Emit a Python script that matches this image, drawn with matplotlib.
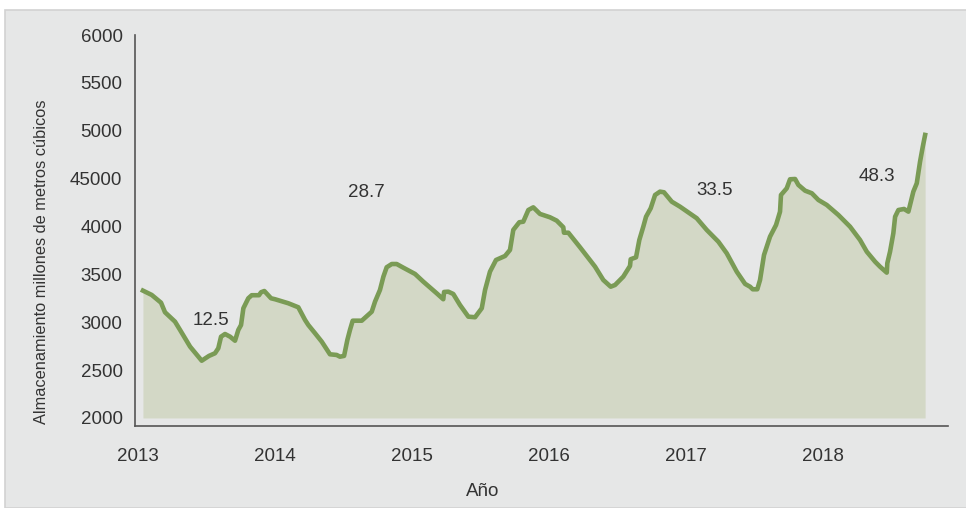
import matplotlib
matplotlib.use("Agg")
import matplotlib.pyplot as plt
from matplotlib.patches import Rectangle

plt.rcParams['font.family'] = ['Liberation Sans', 'DejaVu Sans']

# fecha (fracción de año) y almacenamiento
fechas = [
    2013.036, 2013.100, 2013.168, 2013.197, 2013.270, 2013.307, 2013.380, 2013.465,
    2013.518, 2013.562, 2013.586, 2013.606, 2013.635, 2013.672, 2013.708, 2013.732,
    2013.752, 2013.769, 2013.805, 2013.830, 2013.883, 2013.898, 2013.922, 2013.971,
    2014.000, 2014.097, 2014.170, 2014.219, 2014.243, 2014.292, 2014.341, 2014.401,
    2014.450, 2014.474, 2014.504, 2014.528, 2014.547, 2014.567, 2014.633, 2014.706,
    2014.730, 2014.766, 2014.791, 2014.815, 2014.852, 2014.888, 2014.936, 2015.022,
    2015.082, 2015.180, 2015.228, 2015.234, 2015.265, 2015.301, 2015.350, 2015.411,
    2015.460, 2015.509, 2015.533, 2015.569, 2015.613, 2015.679, 2015.715, 2015.739,
    2015.783, 2015.812, 2015.849, 2015.885, 2015.934, 2016.007, 2016.056, 2016.104,
    2016.109, 2016.141, 2016.226, 2016.336, 2016.396, 2016.450, 2016.482, 2016.542,
    2016.591, 2016.596, 2016.635, 2016.659, 2016.688, 2016.708, 2016.742, 2016.774,
    2016.810, 2016.839, 2016.896, 2016.956, 2017.078, 2017.151, 2017.236, 2017.297,
    2017.370, 2017.431, 2017.467, 2017.487, 2017.520, 2017.540, 2017.569, 2017.613,
    2017.657, 2017.686, 2017.693, 2017.735, 2017.759, 2017.796, 2017.820, 2017.869,
    2017.918, 2017.966, 2018.027, 2018.112, 2018.197, 2018.270, 2018.319, 2018.380,
    2018.416, 2018.465, 2018.469, 2018.489, 2018.513, 2018.526, 2018.550, 2018.591,
    2018.623, 2018.659, 2018.684, 2018.708, 2018.728, 2018.745,
]
almacenamiento = [
    3330, 3285, 3204, 3104, 3006, 2919, 2745, 2598,
    2648, 2676, 2728, 2849, 2877, 2849, 2807, 2919,
    2971, 3146, 3250, 3282, 3282, 3313, 3326, 3250,
    3240, 3198, 3156, 3024, 2971, 2885, 2797, 2665,
    2658, 2640, 2648, 2815, 2919, 3016, 3016, 3110,
    3215, 3337, 3476, 3574, 3608, 3608, 3570, 3504,
    3424, 3302, 3240, 3316, 3319, 3295, 3180, 3058,
    3052, 3146, 3337, 3528, 3650, 3692, 3755, 3964,
    4044, 4050, 4172, 4200, 4131, 4096, 4061, 3992,
    3935, 3935, 3783, 3580, 3441, 3371, 3389, 3476,
    3588, 3658, 3678, 3859, 3998, 4102, 4190, 4329,
    4364, 4357, 4259, 4207, 4086, 3964, 3841, 3720,
    3528, 3400, 3371, 3344, 3344, 3441, 3702, 3894,
    4016, 4155, 4329, 4399, 4493, 4496, 4434, 4374,
    4347, 4277, 4225, 4120, 3998, 3859, 3737, 3632,
    3580, 3518, 3616, 3737, 3929, 4102, 4172, 4183,
    4155, 4364, 4451, 4677, 4834, 4956,
]

anios = [2013, 2014, 2015, 2016, 2017, 2018]
y_ticks = [2000, 2500, 3000, 3500, 4000, 4500, 5000, 5500, 6000]
y_labels = ['2000', '2500', '3000', '3500', '4000', '45000', '5000', '5500', '6000']

notas = ['12.5', '28.7', '33.5', '48.3']
notas_x = [2013.53, 2014.67, 2017.21, 2018.39]
notas_y = [3013, 4350, 4381, 4527]

fondo = '#e6e7e7'
verde = '#7a9b55'
relleno = '#d3d8c6'
texto = '#333333'

fig = plt.figure(figsize=(9.66, 5.08), dpi=100)
fig.patch.set_facecolor('white')
fig.patches.append(Rectangle((5 / 966, 0), 1, 1 - 10 / 508, transform=fig.transFigure,
                             facecolor=fondo, edgecolor='#d2d2d2', linewidth=1.2, zorder=-5))

ax = fig.add_axes([135 / 966, 1 - 426 / 508, (948 - 135) / 966, (426 - 35) / 508])
ax.set_facecolor('none')

ax.fill_between(fechas, 2000, almacenamiento, color=relleno, linewidth=0)
ax.plot(fechas, almacenamiento, color=verde, linewidth=3.3, solid_joinstyle='round')

for t, x, y in zip(notas, notas_x, notas_y):
    ax.text(x, y, t, ha='center', va='center', fontsize=13.5, color=texto)

ax.set_xlim(2012.978, 2018.912)
ax.set_ylim(1916, 6000)
ax.set_xticks(anios)
ax.set_xticklabels([str(a) for a in anios])
ax.set_yticks(y_ticks)
ax.set_yticklabels(y_labels)
ax.tick_params(axis='both', length=0, labelsize=13.5, labelcolor=texto)
ax.tick_params(axis='y', pad=9)
ax.tick_params(axis='x', pad=16)

for s in ['top', 'right']:
    ax.spines[s].set_visible(False)
for s in ['left', 'bottom']:
    ax.spines[s].set_color('#555555')
    ax.spines[s].set_linewidth(1.2)

fig.text(483 / 966, 1 - 491 / 508, 'Año', ha='center', va='center', fontsize=13.5, color=texto)
fig.text(42 / 966, 1 - 262 / 508, 'Almacenamiento millones de metros cúbicos',
         rotation=90, ha='center', va='center', fontsize=11.8, color=texto)

plt.savefig('out.png', dpi=100, facecolor=fig.get_facecolor())
